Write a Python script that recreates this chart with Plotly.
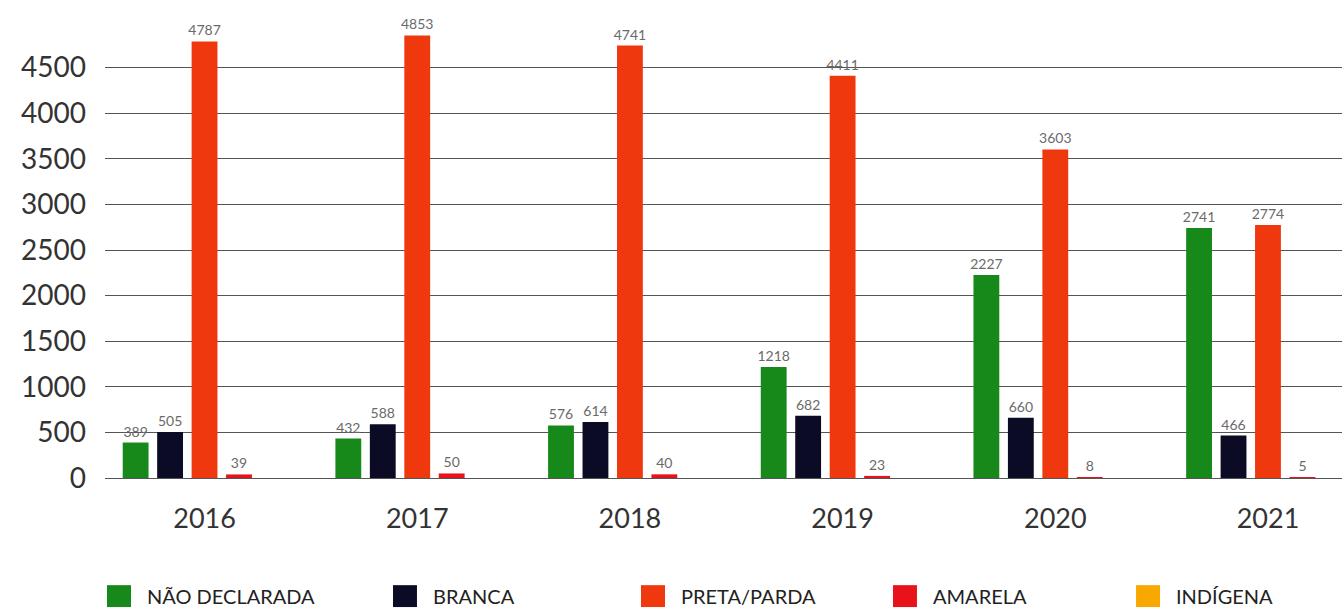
import plotly.graph_objects as go

# Vítimas por raça/cor, 2016–2021
anos = ["2016", "2017", "2018", "2019", "2020", "2021"]
nao_declarada = [389, 432, 576, 1218, 2227, 2741]
branca = [505, 588, 614, 682, 660, 466]
preta_parda = [4787, 4853, 4741, 4411, 3603, 2774]
amarela = [39, 50, 40, 23, 8, 5]
indigena = [None, None, None, None, None, None]

series_nomes = ["NÃO DECLARADA", "BRANCA", "PRETA/PARDA", "AMARELA", "INDÍGENA"]
series_valores = [nao_declarada, branca, preta_parda, amarela, indigena]
series_cores = ["#17891a", "#0b0b26", "#f0380f", "#e8121a", "#f8a800"]

y_ticks = [0, 500, 1000, 1500, 2000, 2500, 3000, 3500, 4000, 4500, 5000]
y_ticktext = [str(v) for v in y_ticks[:-1]] + [""]

fig = go.Figure()
for nome, valores, cor in zip(series_nomes, series_valores, series_cores):
    fig.add_trace(go.Bar(
        x=anos,
        y=valores,
        name=nome,
        marker=dict(color=cor, line=dict(width=0)),
        text=[("" if v is None else str(v)) for v in valores],
        textposition="outside",
        constraintext="none",
        textfont=dict(family="Lato", size=14, color="#6a6a6a"),
        cliponaxis=False,
        showlegend=False,
    ))

# legenda desenhada abaixo do gráfico
legenda_x = [0.0016, 0.2328, 0.4333, 0.6370, 0.8335]
for nome, cor, lx in zip(series_nomes, series_cores, legenda_x):
    fig.add_shape(type="rect", xref="paper", yref="paper",
                  x0=lx, x1=lx + 0.0194, y0=-0.283, y1=-0.235,
                  fillcolor=cor, line=dict(width=0))
    fig.add_annotation(xref="paper", yref="paper", x=lx + 0.0307, y=-0.259,
                       text=nome, showarrow=False, xanchor="left", yanchor="middle",
                       font=dict(family="Lato", size=20, color="#222222"))

fig.update_layout(
    width=1342, height=608,
    margin=dict(l=105, r=0, t=22, b=130),
    paper_bgcolor="white", plot_bgcolor="white",
    barmode="group", bargap=0.19, bargroupgap=0.25,
    font=dict(family="Lato", color="#333333"),
)
fig.update_xaxes(
    type="category", range=[-0.468, 5.348],
    showgrid=False, showline=False, ticks="",
    tickfont=dict(family="Lato", size=27, color="#333333"),
    ticklabelstandoff=22,
)
fig.update_yaxes(
    range=[0, 5000], tickvals=y_ticks, ticktext=y_ticktext,
    showgrid=True, gridcolor="#555555", gridwidth=1.4,
    zeroline=True, zerolinecolor="#555555", zerolinewidth=1.4,
    showline=False, ticks="",
    tickfont=dict(family="Lato", size=28, color="#333333"),
    ticklabelstandoff=18,
)

fig.write_html("out.html")
